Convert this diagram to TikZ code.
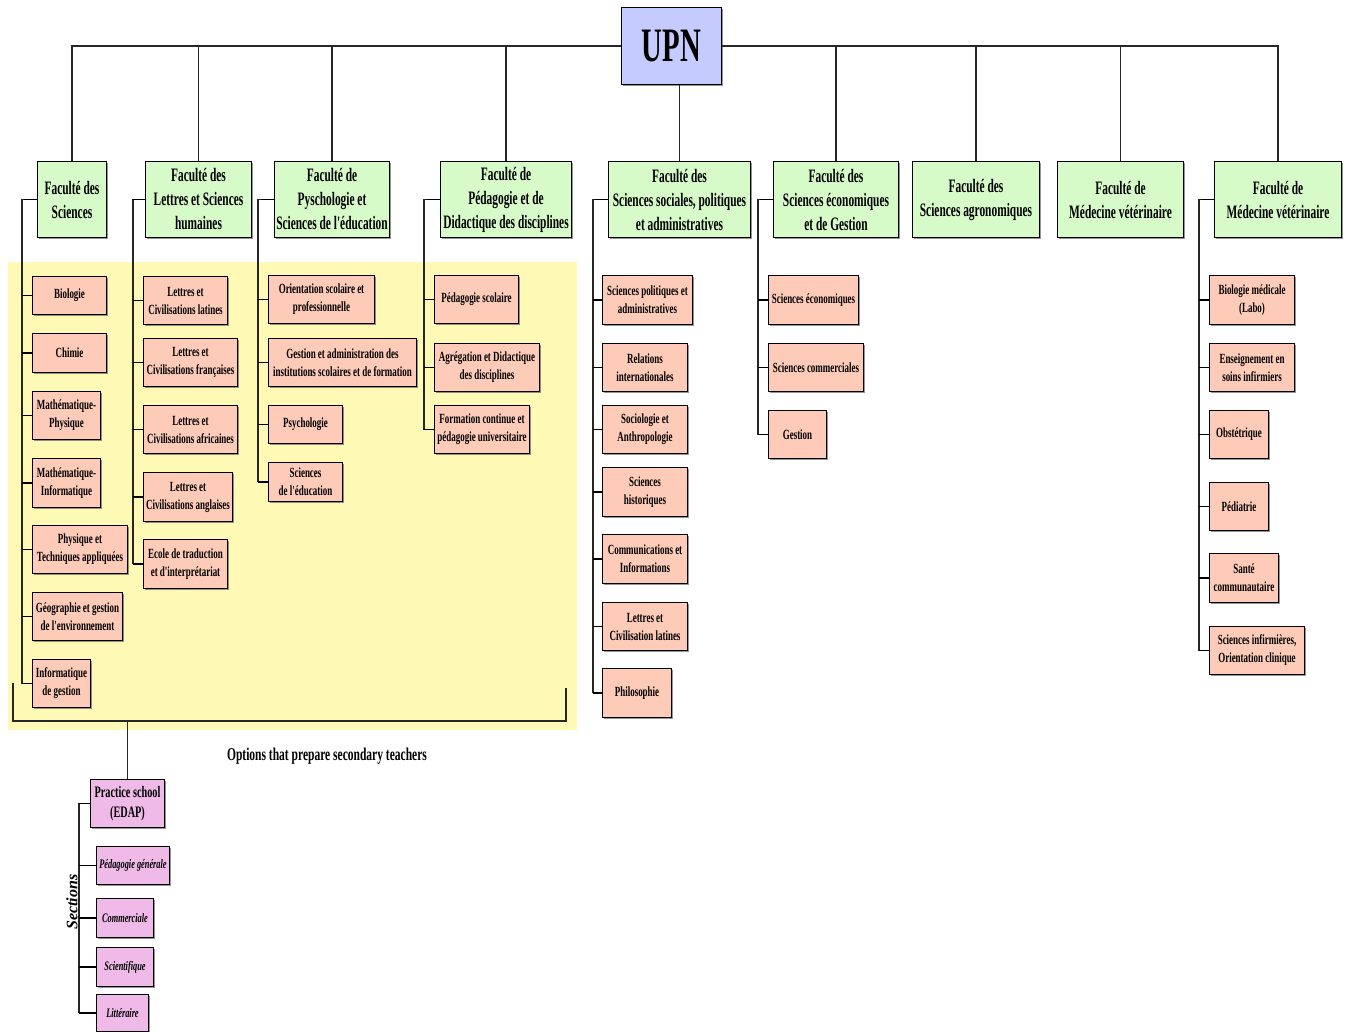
\documentclass[tikz,border=0pt]{standalone}
\usepackage{fontspec}
\setmainfont{Liberation Serif}
\newfontfamily\narrow{Liberation Serif}[FakeStretch=0.64]
\newfontfamily\facfont{Liberation Serif}[FakeStretch=0.6]
\usetikzlibrary{backgrounds, shadows}
\definecolor{upnfill}{HTML}{C6CBFF}
\definecolor{facfill}{HTML}{D6FAC8}
\definecolor{subfill}{HTML}{FDCBB8}
\definecolor{zonefill}{HTML}{FEF9B4}
\definecolor{edapfill}{HTML}{EFB9E8}
\tikzset{
  boxbase/.style = {draw, line width=1pt, anchor=north west, align=center, inner sep=1pt,
                    drop shadow={shadow xshift=1.2pt, shadow yshift=-1.2pt, fill=black!70, opacity=.6}},
  fac/.style     = {boxbase, fill=facfill, minimum height=76,
                    font=\facfont\bfseries\fontsize{19}{24}\selectfont},
  sub/.style     = {boxbase, fill=subfill, font=\narrow\bfseries\fontsize{14}{18}\selectfont},
  sect/.style    = {boxbase, fill=edapfill, font=\narrow\bfseries\itshape\fontsize{13}{16}\selectfont},
  link/.style    = {line width=1.1pt, draw=black!85},
  stub/.style    = {line width=1.8pt, draw=black},
}

\begin{document}
\begin{tikzpicture}[x=1pt, y=-1pt]
  \useasboundingbox (0,0) rectangle (1346,1032);

  % top
  \node[boxbase, fill=upnfill, minimum width=100, minimum height=77,
        font=\facfont\bfseries\fontsize{48}{50}\selectfont] (upn) at (621,7) {UPN};

  % faculties
  \node[fac, minimum width=69]  (sci)  at (37,161)   {Faculté des\\Sciences};
  \node[fac, minimum width=106] (let)  at (145,161)  {Faculté des\\Lettres et Sciences\\humaines};
  \node[fac, minimum width=115] (psy)  at (274,161)  {Faculté de\\Pyschologie et\\Sciences de l'éducation};
  \node[fac, minimum width=131] (ped)  at (440,161)  {Faculté de\\Pédagogie et de\\Didactique des disciplines};
  \node[fac, minimum width=142] (soc)  at (608,161)  {Faculté des\\Sciences sociales, politiques\\et administratives};
  \node[fac, minimum width=125] (eco)  at (773,161)  {Faculté des\\Sciences économiques\\et de Gestion};
  \node[fac, minimum width=127] (agro) at (912,161)  {Faculté des\\Sciences agronomiques};
  \node[fac, minimum width=126] (vetA) at (1057,161) {Faculté de\\Médecine vétérinaire};
  \node[fac, minimum width=127] (vetB) at (1214,161) {Faculté de\\Médecine vétérinaire};

  \draw[link] (sci.north) |- (upn.west);
  \draw[link] (vetB.north) |- (upn.east);
  \foreach \f in {let, psy, ped, eco, agro, vetA}
    \draw[link] (\f.north) -- (\f.north |- upn.west);
  \draw[link] (soc.north) -- (soc.north |- upn.south);

  % options zone
  \begin{scope}[on background layer]
    \fill[zonefill] (8,262) rectangle (577,730);
  \end{scope}

  % Sciences
  \node[sub, minimum width=74, minimum height=38] (bio)  at (32,276) {Biologie};
  \node[sub, minimum width=74, minimum height=39] (chi)  at (32,333) {Chimie};
  \node[sub, minimum width=68, minimum height=48] (mphy) at (32,391) {Mathématique-\\Physique};
  \node[sub, minimum width=68, minimum height=49] (minf) at (32,458) {Mathématique-\\Informatique};
  \node[sub, minimum width=95, minimum height=48] (phyt) at (32,525) {Physique et\\Techniques appliquées};
  \node[sub, minimum width=90, minimum height=48] (geo)  at (32,592) {Géographie et gestion\\de l'environnement};
  \node[sub, minimum width=58, minimum height=48] (infg) at (32,659) {Informatique\\de gestion};

  % Lettres
  \node[sub, minimum width=84, minimum height=48] (llat) at (143,276) {Lettres et\\Civilisations latines};
  \node[sub, minimum width=94, minimum height=48] (lfra) at (143,338) {Lettres et\\Civilisations françaises};
  \node[sub, minimum width=94, minimum height=48] (lafr) at (143,405) {Lettres et\\Civilisations africaines};
  \node[sub, minimum width=89, minimum height=49] (lang) at (143,472) {Lettres et\\Civilisations anglaises};
  \node[sub, minimum width=84, minimum height=49] (trad) at (143,539) {Ecole de traduction\\et d'interprétariat};

  % Psychologie
  \node[sub, minimum width=106, minimum height=48] (orie)  at (268,275) {Orientation scolaire et\\professionnelle};
  \node[sub, minimum width=148, minimum height=48] (gest)  at (268,338) {Gestion et administration des\\institutions scolaires et de formation};
  \node[sub, minimum width=74, minimum height=38]  (psyc)  at (268,405) {Psychologie};
  \node[sub, minimum width=74, minimum height=39]  (seduc) at (268,462) {Sciences\\de l'éducation};

  % Pedagogie
  \node[sub, minimum width=84, minimum height=48]  (pscol) at (434,275) {Pédagogie scolaire};
  \node[sub, minimum width=105, minimum height=48] (agreg) at (434,343) {Agrégation et Didactique\\des disciplines};
  \node[sub, minimum width=95, minimum height=48]  (fcont) at (434,405) {Formation continue et\\pédagogie universitaire};

  % Sciences sociales
  \node[sub, minimum width=90, minimum height=49] (spol)  at (602,275) {Sciences politiques et\\administratives};
  \node[sub, minimum width=85, minimum height=48] (rel)   at (602,343) {Relations\\internationales};
  \node[sub, minimum width=85, minimum height=48] (soci)  at (602,405) {Sociologie et\\Anthropologie};
  \node[sub, minimum width=85, minimum height=49] (shist) at (602,467) {Sciences\\historiques};
  \node[sub, minimum width=85, minimum height=49] (comm)  at (602,534) {Communications et\\Informations};
  \node[sub, minimum width=85, minimum height=48] (lcl)   at (602,602) {Lettres et\\Civilisation latines};
  \node[sub, minimum width=69, minimum height=49] (philo) at (602,668) {Philosophie};

  % Sciences economiques
  \node[sub, minimum width=90, minimum height=49] (seco)  at (768,275) {Sciences économiques};
  \node[sub, minimum width=95, minimum height=48] (scom)  at (768,343) {Sciences commerciales};
  \node[sub, minimum width=58, minimum height=48] (gesti) at (768,410) {Gestion};

  % Medecine
  \node[sub, minimum width=85, minimum height=49] (biom)  at (1209,275) {Biologie médicale\\(Labo)};
  \node[sub, minimum width=85, minimum height=48] (ens)   at (1209,343) {Enseignement en\\soins infirmiers};
  \node[sub, minimum width=59, minimum height=48] (obst)  at (1209,410) {Obstétrique};
  \node[sub, minimum width=59, minimum height=48] (pedi)  at (1209,482) {Pédiatrie};
  \node[sub, minimum width=69, minimum height=49] (sante) at (1209,553) {Santé\\communautaire};
  \node[sub, minimum width=95, minimum height=48] (sinf)  at (1209,626) {Sciences infirmières,\\Orientation clinique};

  % spines
  \draw[link] (sci.west) -| ([xshift=-10pt]infg.west);
  \draw[link] (let.west) -| ([xshift=-10pt]trad.west);
  \draw[link] (psy.west) -| ([xshift=-10pt]seduc.west);
  \draw[link] (ped.west) -| ([xshift=-10pt]fcont.west);
  \draw[link] (soc.west) -| ([xshift=-9pt]philo.west);
  \draw[link] (eco.west) -| ([xshift=-10pt]gesti.west);
  \draw[link] (vetB.west) -| ([xshift=-10pt]sinf.west);
  \foreach \f in {sci, let, psy, ped, soc, eco, vetB}
    \draw[stub] (\f.west) -- ++(-13,0);
  \foreach \c in {bio, chi, mphy, minf, phyt, geo, infg, llat, lfra, lafr, lang, trad,
                  orie, gest, psyc, seduc, pscol, agreg, fcont, seco, scom, gesti,
                  biom, ens, obst, pedi, sante, sinf}
    \draw[stub] ([xshift=-10pt]\c.west) -- (\c.west);
  \foreach \c in {spol, rel, soci, shist, comm, lcl, philo}
    \draw[stub] ([xshift=-9pt]\c.west) -- (\c.west);

  % bracket under the zone
  \coordinate (zoneL)  at (13,683);
  \coordinate (zoneBL) at (13,721);
  \coordinate (zoneBR) at (566,721);
  \coordinate (zoneR)  at (566,688);
  \draw[link] (zoneL) -- (zoneBL) -- (zoneBR) -- (zoneR);
  \node[font=\narrow\bfseries\fontsize{18}{22}\selectfont] (opt) at (327,756)
    {Options that prepare secondary teachers};

  % practice school
  \node[boxbase, fill=edapfill, minimum width=74, minimum height=48,
        font=\narrow\bfseries\fontsize{16}{20}\selectfont] (edap) at (90,779) {Practice school\\(EDAP)};
  \draw[link] (edap.north) -- (edap.north |- zoneBL);
  \node[sect, minimum width=73, minimum height=38] (pgen) at (96,846) {Pédagogie générale};
  \node[sect, minimum width=57, minimum height=39] (comc) at (96,898) {Commerciale};
  \node[sect, minimum width=57, minimum height=39] (scie) at (96,947) {Scientifique};
  \node[sect, minimum width=52, minimum height=37] (litt) at (96,994) {Littéraire};
  \draw[link] (edap.west) -| ([xshift=-17pt]litt.west);
  \draw[stub] (edap.west) -- ++(-11,0);
  \foreach \c in {pgen, comc, scie, litt}
    \draw[stub] ([xshift=-17pt]\c.west) -- (\c.west);
  \node[rotate=90, font=\bfseries\itshape\fontsize{16}{18}\selectfont] (secl) at (72,902) {Sections};
\end{tikzpicture}
\end{document}
